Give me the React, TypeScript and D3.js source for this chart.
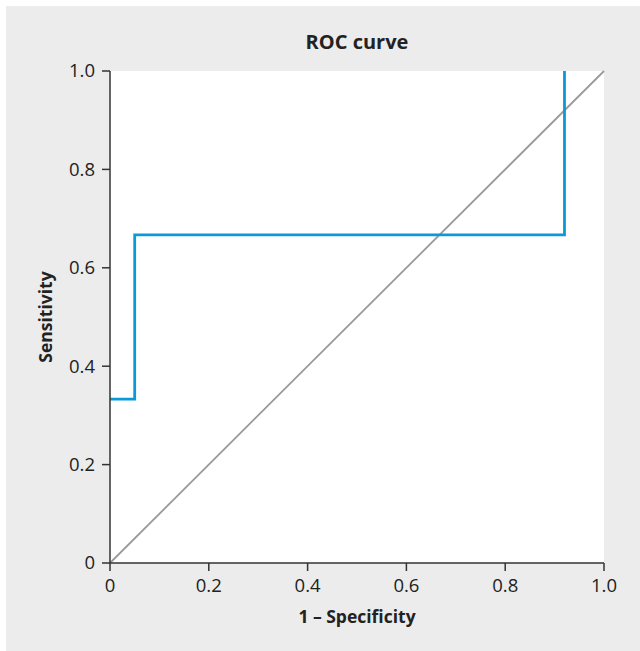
import React from 'react';
import * as d3 from 'd3';

// ROC curve steps (1 - specificity, sensitivity)
const fpr = [0, 0.05, 0.05, 0.92, 0.92];
const tpr = [0.333, 0.333, 0.667, 0.667, 1.0];
const diagonal = [0, 1];
const tickValues = [0, 0.2, 0.4, 0.6, 0.8, 1.0];
const tickLabels = ['0', '0.2', '0.4', '0.6', '0.8', '1.0'];

const W = 640;
const H = 651;
const margin = { top: 71, right: 36, bottom: 88, left: 110 };

const App = () => {
  const x = d3.scaleLinear().domain([0, 1]).range([margin.left, W - margin.right]);
  const y = d3.scaleLinear().domain([0, 1]).range([H - margin.bottom, margin.top]);

  const rocLine = d3.line<number>()
    .x((_, i) => x(fpr[i]))
    .y((_, i) => y(tpr[i]))
    .curve(d3.curveLinear);

  const diagLine = d3.line<number>()
    .x(d => x(d))
    .y(d => y(d));

  const font = '"Open Sans", sans-serif';
  const axisColor = '#333333';
  const textColor = '#222222';
  const tickLen = 8;

  return (
    <svg width={W} height={H} style={{ position: 'absolute', left: 0, top: 0 }} fontFamily={font}>
      <rect x={6} y={6} width={W - 6} height={H - 6} fill="#ebeceb" />
      <rect
        x={x(0)}
        y={y(1)}
        width={x(1) - x(0)}
        height={y(0) - y(1)}
        fill="#ffffff"
      />

      {/* reference diagonal */}
      <path d={diagLine(diagonal) || ''} stroke="#9a9a9a" strokeWidth={1.8} fill="none" />

      {/* ROC curve */}
      <path d={rocLine(fpr) || ''} stroke="#0a9ad9" strokeWidth={2.8} fill="none" />

      {/* axes */}
      <line x1={x(0)} x2={x(1)} y1={y(0)} y2={y(0)} stroke={axisColor} strokeWidth={1.5} />
      <line x1={x(0)} x2={x(0)} y1={y(0)} y2={y(1)} stroke={axisColor} strokeWidth={1.5} />

      {tickValues.map((t, i) => (
        <g key={'x' + i}>
          <line x1={x(t)} x2={x(t)} y1={y(0)} y2={y(0) + tickLen} stroke={axisColor} strokeWidth={1.5} />
          <text x={x(t)} y={y(0) + 29} textAnchor="middle" fontSize={18.5} fill={textColor}>
            {tickLabels[i]}
          </text>
        </g>
      ))}

      {tickValues.map((t, i) => (
        <g key={'y' + i}>
          <line x1={x(0) - tickLen} x2={x(0)} y1={y(t)} y2={y(t)} stroke={axisColor} strokeWidth={1.5} />
          <text x={x(0) - 15} y={y(t)} dy="0.35em" textAnchor="end" fontSize={18.5} fill={textColor}>
            {tickLabels[i]}
          </text>
        </g>
      ))}

      <text x={(x(0) + x(1)) / 2} y={49} textAnchor="middle" fontSize={20} fontWeight="bold" fill={textColor}>
        ROC curve
      </text>

      <text x={(x(0) + x(1)) / 2} y={623} textAnchor="middle" fontSize={17.5} fontWeight="bold" fill={textColor}>
        1 – Specificity
      </text>

      <text
        transform={`translate(52, ${(y(0) + y(1)) / 2}) rotate(-90)`}
        textAnchor="middle"
        fontSize={17.5}
        fontWeight="bold"
        fill={textColor}
      >
        Sensitivity
      </text>
    </svg>
  );
};

export default App;
